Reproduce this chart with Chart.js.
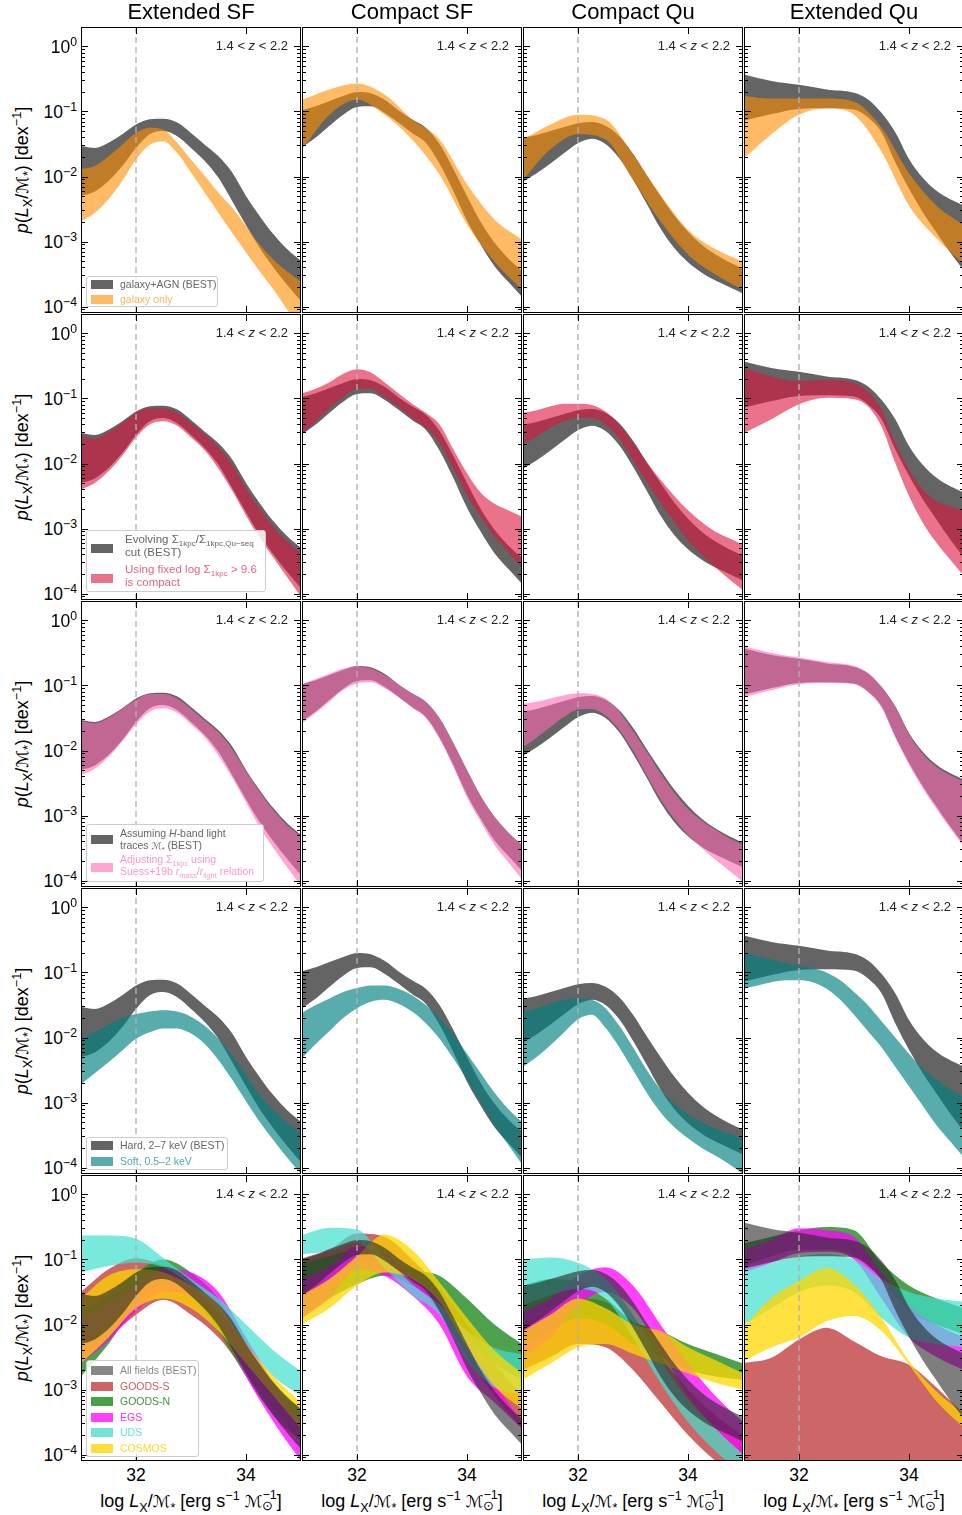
<!DOCTYPE html>
<html><head><meta charset="utf-8">
<script src="https://cdn.jsdelivr.net/npm/chart.js@4/dist/chart.umd.min.js"></script>
<style>
body{margin:0;width:962px;height:1515px;overflow:hidden;background:#fff;position:relative;font-family:"Liberation Sans",Arial,Helvetica,sans-serif}
canvas{position:absolute}
.t{position:absolute;white-space:nowrap;color:#000;line-height:1}
.t sup,.t sub{font-size:70%;line-height:0}
.m{font-family:"DejaVu Sans";font-style:normal;font-size:92%}
.lg{position:absolute;background:rgba(255,255,255,0.85);border:1px solid #ccc;border-radius:3px;box-sizing:border-box}
.lp{position:absolute;width:22px;height:9px}
.lt{position:absolute;white-space:nowrap;line-height:1.15}
.lt sub,.lt sup{font-size:70%;line-height:0}
.ss{display:inline-block;vertical-align:middle;line-height:0.9;font-size:70%;text-align:left;position:relative;top:-1px}
</style></head><body>
<script>
// ---------- data (log10 of p(LX/M*) [dex^-1]) ----------
const columnTitles = ['Extended SF','Compact SF','Compact Qu','Extended Qu'];
const xFine   = [31,31.25,31.5,31.75,32,32.25,32.5,32.75,33,33.25,33.5,33.75,34,34.25,34.5,34.75,35];
const xCoarse = [31,31.5,32,32.5,33,33.5,34,34.5,35];
const xEqu    = [31,31.5,32,32.5,33,33.25,33.5,33.75,34,34.25,34.5,34.75,35];
const yTickExp = [0,-1,-2,-3,-4];
const xTickVals = [32,34];
const refLine = 32;

// Extended SF
const esfBestHi  = [-1.53,-1.56,-1.48,-1.35,-1.20,-1.12,-1.11,-1.17,-1.33,-1.51,-1.69,-1.94,-2.30,-2.61,-2.89,-3.12,-3.30];
const esfBestLo  = [-2.30,-2.23,-2.07,-1.84,-1.56,-1.35,-1.30,-1.38,-1.56,-1.76,-2.02,-2.38,-2.75,-3.10,-3.40,-3.67,-3.92];
const esfGalHi   = [-1.89,-1.84,-1.69,-1.51,-1.33,-1.25,-1.28,-1.48,-1.74,-1.99,-2.25,-2.48,-2.76,-3.05,-3.28,-3.46,-3.62];
const esfGalLo   = [-2.69,-2.56,-2.35,-2.07,-1.74,-1.51,-1.46,-1.64,-1.94,-2.25,-2.56,-2.87,-3.17,-3.46,-3.74,-4.05,-4.35];
const esfFixHi   = [-1.58,-1.62,-1.52,-1.38,-1.22,-1.15,-1.15,-1.22,-1.38,-1.55,-1.75,-2.02,-2.38,-2.70,-2.98,-3.20,-3.38];
const esfFixLo   = [-2.40,-2.30,-2.12,-1.88,-1.60,-1.40,-1.35,-1.42,-1.60,-1.80,-2.08,-2.42,-2.80,-3.15,-3.45,-3.75,-4.05];
const esfSuessHi = [-1.55,-1.58,-1.50,-1.36,-1.22,-1.13,-1.13,-1.20,-1.36,-1.54,-1.72,-1.98,-2.32,-2.64,-2.92,-3.15,-3.32];
const esfSuessLo = [-2.38,-2.28,-2.10,-1.86,-1.60,-1.40,-1.35,-1.42,-1.60,-1.80,-2.08,-2.42,-2.80,-3.18,-3.50,-3.80,-4.08];
const esfSoftHi  = [-2.02,-1.92,-1.80,-1.70,-1.64,-1.60,-1.58,-1.60,-1.68,-1.82,-2.02,-2.28,-2.58,-2.88,-3.12,-3.32,-3.48];
const esfSoftLo  = [-2.72,-2.55,-2.38,-2.20,-2.02,-1.92,-1.86,-1.86,-1.94,-2.10,-2.35,-2.65,-2.98,-3.30,-3.58,-3.85,-4.10];
const esfGSHi  = [-1.50,-1.15,-0.98,-1.10,-1.35,-1.70,-2.30,-2.90,-3.40];
const esfGSLo  = [-2.55,-2.20,-1.85,-1.62,-1.85,-2.20,-2.75,-3.30,-3.80];
const esfGNHi  = [-1.80,-1.55,-1.20,-1.00,-1.20,-1.60,-2.30,-2.90,-3.30];
const esfGNLo  = [-2.80,-2.30,-1.70,-1.40,-1.55,-2.10,-2.80,-3.40,-3.80];
const esfEGSHi = [-1.90,-1.65,-1.40,-1.15,-1.20,-1.50,-2.20,-2.90,-3.55];
const esfEGSLo = [-2.60,-2.25,-1.80,-1.50,-1.55,-1.95,-2.80,-3.50,-4.10];
const esfUDSHi = [-0.63,-0.63,-0.68,-0.98,-1.30,-1.60,-2.00,-2.40,-2.72];
const esfUDSLo = [-1.20,-1.10,-1.05,-1.12,-1.40,-1.80,-2.30,-2.80,-3.10];
const esfCOSHi = [-1.60,-1.25,-1.15,-1.20,-1.40,-1.70,-2.30,-2.80,-3.20];
const esfCOSLo = [-2.60,-2.20,-1.75,-1.60,-1.75,-2.10,-2.60,-3.10,-3.60];

// Compact SF
const csfBestHi  = [-0.98,-0.92,-0.84,-0.76,-0.70,-0.72,-0.82,-0.98,-1.12,-1.25,-1.50,-1.88,-2.30,-2.70,-3.02,-3.26,-3.45];
const csfBestLo  = [-1.55,-1.40,-1.22,-1.05,-0.93,-0.92,-1.02,-1.17,-1.33,-1.48,-1.80,-2.22,-2.68,-3.05,-3.38,-3.62,-3.85];
const csfGalHi   = [-0.82,-0.66,-0.57,-0.74,-1.12,-1.43,-2.12,-2.66,-2.97];
const csfGalLo   = [-1.58,-1.05,-0.82,-1.05,-1.43,-1.97,-2.74,-3.31,-3.74];
const csfFixHi   = [-0.92,-0.85,-0.75,-0.62,-0.55,-0.60,-0.75,-0.92,-1.08,-1.22,-1.40,-1.78,-2.15,-2.45,-2.62,-2.72,-2.82];
const csfFixLo   = [-1.55,-1.35,-1.15,-0.98,-0.85,-0.85,-0.98,-1.12,-1.30,-1.45,-1.68,-2.08,-2.48,-2.82,-3.12,-3.36,-3.60];
const csfSuessHi = [-0.98,-0.90,-0.82,-0.74,-0.70,-0.74,-0.84,-0.98,-1.12,-1.25,-1.50,-1.88,-2.30,-2.70,-3.02,-3.26,-3.45];
const csfSuessLo = [-1.58,-1.42,-1.25,-1.07,-0.97,-0.95,-1.04,-1.18,-1.34,-1.50,-1.82,-2.25,-2.72,-3.10,-3.45,-3.72,-3.98];
const csfSoftHi  = [-1.62,-1.50,-1.40,-1.30,-1.24,-1.20,-1.20,-1.25,-1.35,-1.50,-1.70,-1.95,-2.25,-2.55,-2.85,-3.10,-3.30];
const csfSoftLo  = [-2.32,-2.10,-1.90,-1.70,-1.55,-1.45,-1.42,-1.48,-1.60,-1.78,-2.02,-2.32,-2.65,-3.00,-3.35,-3.65,-3.95];
const csfGSHi  = [-1.00,-0.85,-0.60,-0.65,-1.00,-1.45,-2.00,-2.60,-3.10];
const csfGSLo  = [-1.60,-1.35,-1.05,-1.05,-1.35,-1.80,-2.50,-3.10,-3.60];
const csfGNHi  = [-1.05,-0.95,-0.85,-0.95,-1.15,-1.25,-1.60,-2.00,-2.30];
const csfGNLo  = [-1.90,-1.60,-1.38,-1.25,-1.40,-1.70,-2.20,-2.60,-2.85];
const csfEGSHi = [-1.30,-1.10,-0.80,-0.90,-1.25,-1.60,-2.20,-2.90,-3.50];
const csfEGSLo = [-1.90,-1.60,-1.15,-1.25,-1.55,-2.00,-2.80,-3.20,-3.60];
const csfUDSHi = [-0.62,-0.51,-0.54,-0.97,-1.38,-1.69,-2.10,-2.36,-2.46];
const csfUDSLo = [-0.92,-0.87,-0.74,-1.13,-1.54,-1.85,-2.56,-2.97,-3.08];
const csfCOSHi = [-1.55,-1.30,-0.95,-0.62,-0.85,-1.35,-1.90,-2.40,-2.75];
const csfCOSLo = [-2.00,-1.75,-1.40,-1.20,-1.30,-1.65,-2.35,-2.95,-3.30];

// Compact Qu
const cquBestHi  = [-1.40,-1.36,-1.30,-1.24,-1.18,-1.16,-1.22,-1.38,-1.65,-1.98,-2.30,-2.60,-2.85,-3.05,-3.20,-3.32,-3.42];
const cquBestLo  = [-2.08,-1.95,-1.80,-1.64,-1.49,-1.42,-1.50,-1.72,-2.05,-2.42,-2.80,-3.10,-3.32,-3.48,-3.60,-3.70,-3.80];
const cquGalHi   = [-1.43,-1.20,-1.05,-1.12,-1.66,-2.28,-2.82,-3.12,-3.31];
const cquGalLo   = [-2.05,-1.58,-1.35,-1.43,-2.05,-2.69,-3.20,-3.51,-3.74];
const cquFixHi   = [-1.22,-1.18,-1.12,-1.08,-1.08,-1.10,-1.20,-1.40,-1.68,-1.98,-2.25,-2.50,-2.72,-2.90,-3.05,-3.15,-3.25];
const cquFixLo   = [-1.70,-1.58,-1.45,-1.35,-1.30,-1.30,-1.40,-1.62,-1.95,-2.28,-2.60,-2.90,-3.18,-3.40,-3.60,-3.78,-3.95];
const cquSuessHi = [-1.28,-1.25,-1.20,-1.15,-1.12,-1.13,-1.20,-1.40,-1.70,-2.02,-2.35,-2.65,-2.90,-3.08,-3.22,-3.35,-3.45];
const cquSuessLo = [-1.95,-1.80,-1.64,-1.48,-1.37,-1.36,-1.46,-1.68,-2.00,-2.38,-2.75,-3.05,-3.30,-3.50,-3.68,-3.85,-4.02];
const cquSoftHi  = [-1.60,-1.55,-1.48,-1.42,-1.40,-1.42,-1.55,-1.82,-2.15,-2.50,-2.80,-3.02,-3.18,-3.30,-3.40,-3.48,-3.55];
const cquSoftLo  = [-2.45,-2.30,-2.12,-1.92,-1.72,-1.65,-1.85,-2.15,-2.50,-2.85,-3.15,-3.38,-3.55,-3.70,-3.82,-3.95,-4.10];
const cquGSHi  = [-2.00,-1.80,-1.60,-1.65,-2.00,-2.50,-3.00,-3.40,-3.70];
const cquGSLo  = [-2.70,-2.50,-2.30,-2.35,-2.70,-3.20,-3.70,-4.10,-4.40];
const cquGNHi  = [-1.40,-1.30,-1.35,-1.60,-1.95,-2.10,-2.30,-2.45,-2.60];
const cquGNLo  = [-2.35,-2.10,-1.90,-2.00,-2.30,-2.50,-2.70,-2.80,-2.85];
const cquEGSHi = [-1.80,-1.60,-1.25,-1.12,-1.40,-2.00,-2.60,-3.10,-3.50];
const cquEGSLo = [-2.50,-2.20,-1.70,-1.50,-1.75,-2.40,-3.10,-3.60,-4.00];
const cquUDSHi = [-1.00,-0.97,-1.05,-1.30,-1.85,-2.55,-3.15,-3.60,-4.00];
const cquUDSLo = [-1.70,-1.55,-1.45,-1.60,-2.20,-2.90,-3.50,-3.95,-4.30];
const cquCOSHi = [-2.10,-1.85,-1.60,-1.75,-2.00,-2.10,-2.35,-2.55,-2.75];
const cquCOSLo = [-2.85,-2.60,-2.35,-2.30,-2.45,-2.60,-2.75,-2.90,-3.00];

// Extended Qu
const equBestHi  = [-0.43,-0.53,-0.59,-0.66,-0.71,-0.81,-1.02,-1.32,-1.73,-2.02,-2.22,-2.35,-2.45];
const equBestLo  = [-1.14,-1.04,-0.96,-0.95,-0.97,-1.09,-1.32,-1.78,-2.19,-2.55,-2.86,-3.17,-3.45];
const equGalHi   = [-0.76,-0.80,-0.80,-0.80,-0.85,-1.25,-1.95,-2.45,-2.75];
const equGalLo   = [-1.72,-1.35,-1.05,-0.95,-1.05,-1.62,-2.45,-2.95,-3.35];
const equFixHi   = [-0.53,-0.66,-0.73,-0.72,-0.76,-0.89,-1.17,-1.68,-2.09,-2.40,-2.58,-2.66,-2.73];
const equFixLo   = [-1.53,-1.32,-1.09,-0.99,-1.01,-1.12,-1.43,-1.99,-2.50,-2.91,-3.22,-3.48,-3.73];
const equSuessHi = [-0.40,-0.50,-0.57,-0.64,-0.70,-0.80,-1.02,-1.33,-1.75,-2.05,-2.25,-2.38,-2.48];
const equSuessLo = [-1.18,-1.07,-0.98,-0.96,-0.98,-1.10,-1.34,-1.80,-2.22,-2.58,-2.90,-3.20,-3.48];
const equSoftHi  = [-0.70,-0.75,-0.80,-0.85,-0.90,-0.93,-1.00,-1.12,-1.30,-1.50,-1.75,-2.00,-2.25,-2.48,-2.65,-2.80,-2.92];
const equSoftLo  = [-1.25,-1.20,-1.15,-1.12,-1.12,-1.15,-1.25,-1.42,-1.65,-1.90,-2.15,-2.45,-2.75,-3.05,-3.35,-3.60,-3.85];
const equGSHi  = [-2.59,-2.51,-2.23,-2.05,-2.26,-2.49,-2.62,-2.97,-3.38];
const equGSLo  = null; // extends below the axis
const equGNHi  = [-0.75,-0.65,-0.55,-0.50,-0.55,-1.05,-1.40,-1.60,-1.75];
const equGNLo  = [-1.10,-0.95,-0.85,-0.85,-0.95,-1.30,-1.80,-2.00,-2.15];
const equEGSHi = [-0.85,-0.70,-0.52,-0.55,-0.65,-1.20,-1.70,-2.00,-2.20];
const equEGSLo = [-1.20,-1.05,-0.90,-0.88,-1.00,-1.60,-2.20,-2.50,-2.70];
const equUDSHi = [-1.15,-1.05,-0.95,-0.92,-1.00,-1.30,-1.50,-1.60,-1.65];
const equUDSLo = [-2.00,-1.75,-1.50,-1.40,-1.50,-1.90,-2.20,-2.30,-2.35];
const equCOSHi = [-2.03,-1.59,-1.33,-1.13,-1.38,-1.90,-2.56,-3.03,-3.38];
const equCOSLo = [-2.56,-2.35,-2.20,-1.95,-1.87,-2.10,-2.62,-3.18,-3.59];

// ---------- styles ----------
const C = {
  best:'rgb(100,100,100)', gal:'rgba(255,140,0,0.6)', fix:'rgba(220,20,60,0.6)',
  suess:'rgba(255,105,180,0.6)', soft:'rgba(0,128,128,0.65)',
  all:'rgba(40,40,40,0.6)', GS:'rgba(200,85,85,0.9)', GN:'rgba(34,139,34,0.8)',
  EGS:'rgba(255,0,255,0.75)', UDS:'rgba(64,224,208,0.7)', COS:'rgba(255,215,0,0.75)'
};

const cols = [
 {best:[xFine,esfBestHi,esfBestLo], gal:[xFine,esfGalHi,esfGalLo], fix:[xFine,esfFixHi,esfFixLo], suess:[xFine,esfSuessHi,esfSuessLo], soft:[xFine,esfSoftHi,esfSoftLo],
  GS:[xCoarse,esfGSHi,esfGSLo], GN:[xCoarse,esfGNHi,esfGNLo], EGS:[xCoarse,esfEGSHi,esfEGSLo], UDS:[xCoarse,esfUDSHi,esfUDSLo], COS:[xCoarse,esfCOSHi,esfCOSLo]},
 {best:[xFine,csfBestHi,csfBestLo], gal:[xCoarse,csfGalHi,csfGalLo], fix:[xFine,csfFixHi,csfFixLo], suess:[xFine,csfSuessHi,csfSuessLo], soft:[xFine,csfSoftHi,csfSoftLo],
  GS:[xCoarse,csfGSHi,csfGSLo], GN:[xCoarse,csfGNHi,csfGNLo], EGS:[xCoarse,csfEGSHi,csfEGSLo], UDS:[xCoarse,csfUDSHi,csfUDSLo], COS:[xCoarse,csfCOSHi,csfCOSLo]},
 {best:[xFine,cquBestHi,cquBestLo], gal:[xCoarse,cquGalHi,cquGalLo], fix:[xFine,cquFixHi,cquFixLo], suess:[xFine,cquSuessHi,cquSuessLo], soft:[xFine,cquSoftHi,cquSoftLo],
  GS:[xCoarse,cquGSHi,cquGSLo], GN:[xCoarse,cquGNHi,cquGNLo], EGS:[xCoarse,cquEGSHi,cquEGSLo], UDS:[xCoarse,cquUDSHi,cquUDSLo], COS:[xCoarse,cquCOSHi,cquCOSLo]},
 {best:[xEqu,equBestHi,equBestLo], gal:[xCoarse,equGalHi,equGalLo], fix:[xEqu,equFixHi,equFixLo], suess:[xEqu,equSuessHi,equSuessLo], soft:[xFine,equSoftHi,equSoftLo],
  GS:[xCoarse,equGSHi,equGSLo], GN:[xCoarse,equGNHi,equGNLo], EGS:[xCoarse,equEGSHi,equEGSLo], UDS:[xCoarse,equUDSHi,equUDSLo], COS:[xCoarse,equCOSHi,equCOSLo]}
];
const rows = [
  [['best','best',2],['gal','gal',1]],
  [['best','best',2],['fix','fix',1]],
  [['best','best',2],['suess','suess',1]],
  [['best','best',2],['soft','soft',1]],
  [['GS','GS',6],['GN','GN',5],['EGS','EGS',4],['UDS','UDS',3],['COS','COS',2],['best','all',1]]
];

// ---------- layout ----------
const PX = 81, PY = 27, DX = 221, DY = 287, PW = 220, PH = 286;
const YMIN = Math.pow(10,-4.1), YMAX = Math.pow(10,0.3);

function pts(xs, ys){ return xs.map((x,i)=>({x:x, y:Math.pow(10, ys[i])})); }
function bandDatasets(b, color, order){
  const [xs, hi, lo] = b;
  const common = {borderWidth:0, borderColor:'rgba(0,0,0,0)', pointRadius:0, cubicInterpolationMode:'monotone', order:order};
  if (!lo) return [Object.assign({data:pts(xs,hi), fill:'start', backgroundColor:color}, common)];
  return [Object.assign({data:pts(xs,hi), fill:'+1', backgroundColor:color}, common),
          Object.assign({data:pts(xs,lo), fill:false, backgroundColor:color}, common)];
}

const framePlugin = {
  id:'frame',
  afterDatasetsDraw(chart){
    const {ctx, chartArea:a} = chart; const x = chart.scales.x, y = chart.scales.y;
    ctx.save();
    ctx.beginPath(); ctx.rect(a.left,a.top,a.right-a.left,a.bottom-a.top); ctx.clip();
    const rx = Math.round(x.getPixelForValue(refLine));
    ctx.strokeStyle='rgba(175,175,175,0.9)'; ctx.lineWidth=1.5; ctx.setLineDash([6,4]);
    ctx.beginPath(); ctx.moveTo(rx,a.top); ctx.lineTo(rx,a.bottom); ctx.stroke();
    ctx.setLineDash([]);
    ctx.strokeStyle='#000'; ctx.lineWidth=1;
    const seg=(x1,y1,x2,y2)=>{ctx.beginPath();ctx.moveTo(x1,y1);ctx.lineTo(x2,y2);ctx.stroke();};
    for(let e=-5;e<=1;e++) for(let k=1;k<10;k++){
      const v=k*Math.pow(10,e); if(v<YMIN||v>YMAX) continue;
      const py=Math.round(y.getPixelForValue(v))+0.5; const L=k===1?7:4;
      seg(a.left,py,a.left+L,py); seg(a.right-L,py,a.right,py);
    }
    for(const t of xTickVals){
      const px=Math.round(x.getPixelForValue(t))+0.5;
      seg(px,a.top,px,a.top+7); seg(px,a.bottom-7,px,a.bottom);
    }
    ctx.restore();
    ctx.save(); ctx.strokeStyle='#000'; ctx.lineWidth=1;
    ctx.strokeRect(a.left+0.5,a.top+0.5,a.right-a.left-1,a.bottom-a.top-1);
    ctx.restore();
  }
};

function addText(html, css){ const d=document.createElement('div'); d.className='t'; d.innerHTML=html; Object.assign(d.style, css); document.body.appendChild(d); return d; }

for(let r=0;r<5;r++){
  for(let c=0;c<4;c++){
    const cv=document.createElement('canvas');
    cv.width=PW+1; cv.height=PH+1;
    const left=PX+DX*c, top=PY+DY*r;
    cv.style.left=left+'px'; cv.style.top=top+'px';
    document.body.appendChild(cv);
    let datasets=[];
    for(const [key,col,ord] of rows[r]) datasets=datasets.concat(bandDatasets(cols[c][key], C[col], ord));
    const chart=new Chart(cv,{type:'line',data:{datasets},
      options:{responsive:false,animation:false,devicePixelRatio:1,
        layout:{padding:{left:0,top:0,right:1,bottom:1}},
        plugins:{legend:{display:false},tooltip:{enabled:false}},
        scales:{x:{type:'linear',min:31,max:35,display:false,bounds:'data'},
                y:{type:'logarithmic',min:YMIN,max:YMAX,display:false,bounds:'data'}}},
      plugins:[framePlugin]});
    addText('1.4 &lt; <i>z</i> &lt; 2.2',{left:(left+207)+'px',top:(top+12)+'px',fontSize:'13px',transform:'translateX(-100%)',color:'#222'});
    if(c===0){
      for(const e of yTickExp){
        const py=top+chart.scales.y.getPixelForValue(Math.pow(10,e));
        addText('10<sup>'+(e===0?'0':'−'+(-e))+'</sup>',{left:'77px',top:(py-8)+'px',fontSize:'17.5px',transform:'translateX(-100%)'});
      }
    }
    if(r===4){
      for(const t of xTickVals){
        const px=left+chart.scales.x.getPixelForValue(t);
        addText(String(t),{left:px+'px',top:'1467px',fontSize:'17.5px',transform:'translateX(-50%)'});
      }
    }
  }
}
// titles & axis labels
for(let c=0;c<4;c++){
  const cx=PX+DX*c+PW/2;
  addText(columnTitles[c],{left:cx+'px',top:'1px',fontSize:'22px',transform:'translateX(-50%)'});
  addText('log <i>L</i><sub>X</sub>/<span class="m">ℳ</span><sub>*</sub> [erg s<sup>−1</sup> <span class="m">ℳ</span><span class="ss">−1<br>⊙</span>]',
    {left:cx+'px',top:'1491px',fontSize:'18px',transform:'translateX(-50%)'});
}
for(let r=0;r<5;r++){
  const cy=PY+DY*r+PH/2;
  addText('<i>p</i>(<i>L</i><sub>X</sub>/<span class="m">ℳ</span><sub>*</sub>) [dex<sup>−1</sup>]',
    {left:'22px',top:cy+'px',fontSize:'18px',transform:'translate(-50%,-50%) rotate(-90deg)'});
}
// legends
function legend(left,top,w,h,fs,items){
  const box=document.createElement('div'); box.className='lg';
  Object.assign(box.style,{left:left+'px',top:top+'px',width:w+'px',height:h+'px'});
  for(const it of items){
    const p=document.createElement('div'); p.className='lp';
    Object.assign(p.style,{left:'4px',top:(it.py)+'px',background:it.patch});
    box.appendChild(p);
    const t=document.createElement('div'); t.className='lt'; t.innerHTML=it.html;
    Object.assign(t.style,{left:it.tx+'px',top:it.ty+'px',fontSize:fs+'px',color:it.text});
    box.appendChild(t);
  }
  document.body.appendChild(box);
}
legend(86,276,132,31,10.5,[
  {py:3,tx:33,ty:1,patch:'#646464',text:'#666',html:'galaxy+AGN (BEST)'},
  {py:18,tx:33,ty:16,patch:'rgb(255,186,102)',text:'rgb(255,180,90)',html:'galaxy only'}]);
legend(86,530,180,62,11.5,[
  {py:13,tx:38,ty:2,patch:'#646464',text:'#666',html:'Evolving Σ<sub>1kpc</sub>/Σ<sub>1kpc,Qu−seq</sub><br>cut (BEST)'},
  {py:43,tx:38,ty:32,patch:'rgb(234,114,138)',text:'rgb(232,100,128)',html:'Using fixed log Σ<sub>1kpc</sub> &gt; 9.6<br>is compact'}]);
legend(86,824,178,58,10.5,[
  {py:10,tx:33,ty:2,patch:'#646464',text:'#666',html:'Assuming <i>H</i>-band light<br>traces <span class="m">ℳ</span><sub>*</sub> (BEST)'},
  {py:38,tx:33,ty:28,patch:'rgb(255,165,210)',text:'rgb(255,150,205)',html:'Adjusting Σ<sub>1kpc</sub> using<br>Suess+19b <i>r</i><sub>mass</sub>/<i>r</i><sub>light</sub> relation'}]);
legend(86,1137,142,33,10.5,[
  {py:3,tx:33,ty:1,patch:'#646464',text:'#666',html:'Hard, 2–7 keV (BEST)'},
  {py:19,tx:33,ty:17,patch:'rgb(89,172,172)',text:'rgb(80,170,175)',html:'Soft, 0.5–2 keV'}]);
legend(86,1360,113,97,10.5,[
  {py:5,tx:33,ty:3,patch:'#888',text:'#888',html:'All fields (BEST)'},
  {py:21,tx:33,ty:19,patch:'rgb(205,100,100)',text:'rgb(205,92,92)',html:'GOODS-S'},
  {py:36,tx:33,ty:34,patch:'rgb(70,160,70)',text:'rgb(60,150,60)',html:'GOODS-N'},
  {py:52,tx:33,ty:50,patch:'rgb(255,64,255)',text:'rgb(255,40,255)',html:'EGS'},
  {py:67,tx:33,ty:65,patch:'rgb(115,228,215)',text:'rgb(100,225,210)',html:'UDS'},
  {py:83,tx:33,ty:81,patch:'rgb(255,222,60)',text:'rgb(255,215,40)',html:'COSMOS'}]);
</script>
</body></html>
